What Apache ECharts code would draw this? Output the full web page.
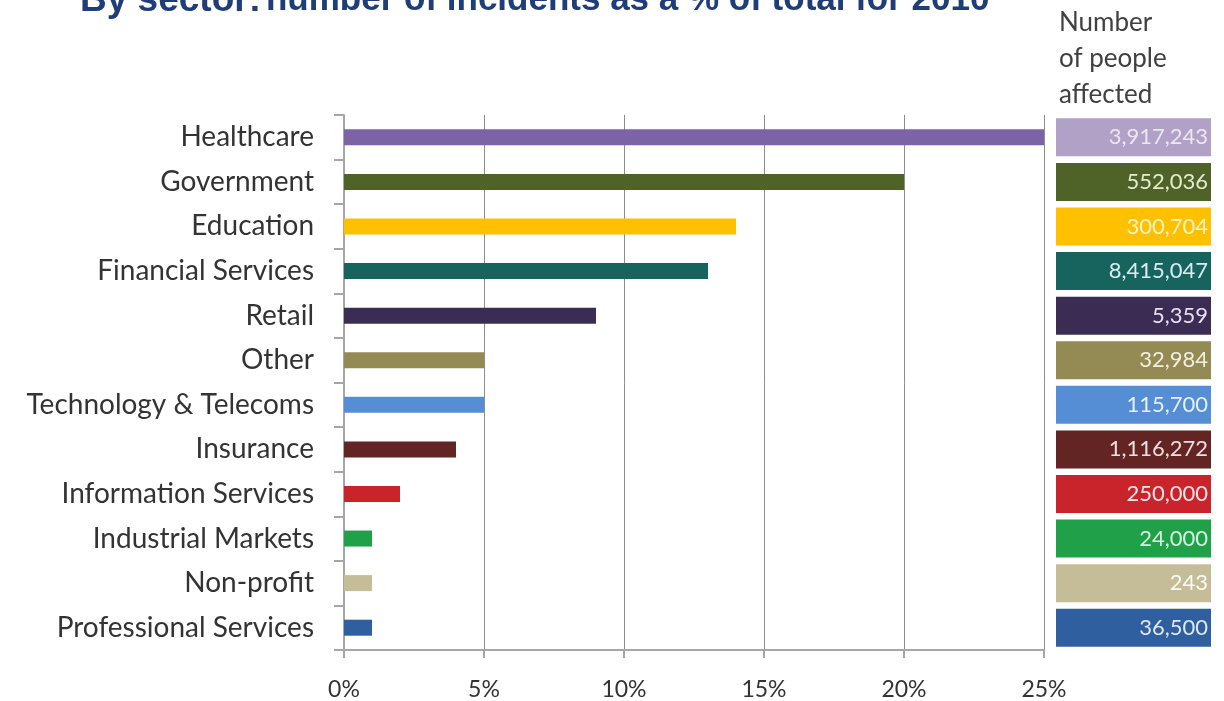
<!DOCTYPE html>
<html>
<head>
<meta charset="utf-8">
<script src="https://cdn.jsdelivr.net/npm/echarts@6/dist/echarts.min.js"></script>
<style>
  html, body { margin: 0; padding: 0; background: #fff; }
  #chart { width: 1224px; height: 701px; }
</style>
</head>
<body>
<div id="chart"></div>
<script>
var dom = document.getElementById("chart");
var myChart = echarts.init(dom);

// sectors, top to bottom
var sectors = ['Healthcare', 'Government', 'Education', 'Financial Services', 'Retail', 'Other',
    'Technology & Telecoms', 'Insurance', 'Information Services', 'Industrial Markets',
    'Non-profit', 'Professional Services'];
// share of incidents, %
var incidentPct = [25, 20, 14, 13, 9, 5, 5, 4, 2, 1, 1, 1];
// number of people affected
var peopleAffected = ['3,917,243', '552,036', '300,704', '8,415,047', '5,359', '32,984',
    '115,700', '1,116,272', '250,000', '24,000', '243', '36,500'];
var barColors = ['#7d62a6', '#4f6228', '#ffc000', '#17645f', '#3b2c54', '#948a54',
    '#558ed5', '#632523', '#c9232b', '#20a049', '#c4bd97', '#2f5f9e'];
var boxColors = ['#b2a1c7', '#4f6228', '#ffc000', '#17645f', '#3b2c54', '#948a54',
    '#558ed5', '#632523', '#c9232b', '#20a049', '#c4bd97', '#2f5f9e'];
var boxText = ['#ece6f4', '#e4ebcf', '#fff3c4', '#d8eeee', '#e6e0f0', '#f2efe0',
    '#e6f0fb', '#f0dede', '#ffe6e6', '#d6f5de', '#fbfaf2', '#dde8f6'];

var font = 'Lato, "Open Sans", sans-serif';
var narrow = '"Liberation Sans Narrow", "Liberation Sans", sans-serif';
var cellFill = 1;

option = {
    animation: false,
    title: [{
        text: '{a|By sector:} {b|number of incidents as a % of total for 2010}',
        left: 75,
        top: -23,
        textStyle: {
            rich: {
                a: { fontFamily: narrow, fontWeight: 'bold', fontSize: 37, color: '#1f3d78' },
                b: { fontFamily: narrow, fontWeight: 'bold', fontSize: 35, color: '#1f3d78' }
            }
        }
    }, {
        text: 'Number\nof people\naffected',
        left: 1054,
        top: 0,
        textStyle: {
            fontFamily: font,
            fontWeight: 'normal',
            fontSize: 26,
            lineHeight: 36,
            color: '#404040'
        }
    }],
    grid: [{
        left: 344, top: 115, width: 700, height: 535
    }, {
        left: 1056, top: 115, width: 155, height: 535
    }],
    xAxis: [{
        gridIndex: 0,
        type: 'value',
        min: 0,
        max: 25,
        interval: 5,
        axisLine: { show: true, lineStyle: { color: '#a6a6a6', width: 2 } },
        axisTick: { show: true, length: 8, lineStyle: { color: '#a6a6a6', width: 2 } },
        axisLabel: {
            margin: 28,
            fontFamily: font,
            fontSize: 23,
            color: '#333',
            formatter: function (v) { return v + '%'; }
        },
        splitLine: { show: true, lineStyle: { color: '#8c8c8c', width: 1 } }
    }, {
        gridIndex: 1,
        type: 'value',
        min: 0,
        max: 1,
        show: false
    }],
    yAxis: [{
        gridIndex: 0,
        type: 'category',
        data: sectors,
        inverse: true,
        axisLine: { show: true, lineStyle: { color: '#a6a6a6', width: 2 } },
        axisTick: { show: true, length: 10, lineStyle: { color: '#a6a6a6', width: 2 } },
        axisLabel: {
            margin: 30,
            fontFamily: font,
            fontSize: 28,
            color: '#333'
        }
    }, {
        gridIndex: 1,
        type: 'category',
        data: sectors,
        inverse: true,
        show: false
    }],
    series: [{
        name: 'incidents',
        type: 'bar',
        xAxisIndex: 0,
        yAxisIndex: 0,
        barWidth: 16,
        data: incidentPct.map(function (v, i) {
            return { value: v, itemStyle: { color: barColors[i] } };
        })
    }, {
        name: 'people',
        type: 'bar',
        xAxisIndex: 1,
        yAxisIndex: 1,
        barWidth: 38,
        silent: true,
        data: peopleAffected.map(function (v, i) {
            return {
                value: cellFill,
                itemStyle: { color: boxColors[i] },
                label: {
                    show: true,
                    position: 'insideRight',
                    distance: 3,
                    formatter: v,
                    fontFamily: font,
                    fontSize: 22,
                    color: boxText[i]
                }
            };
        })
    }]
};

if (option && typeof option === "object") {
    myChart.setOption(option, true);
}
</script>
</body>
</html>
